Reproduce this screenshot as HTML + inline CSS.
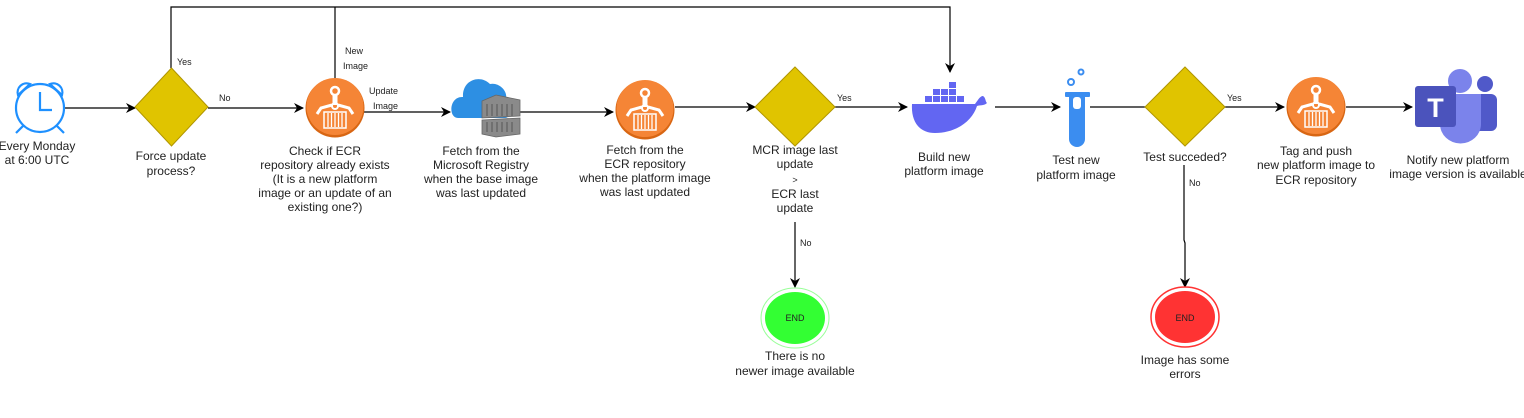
<!DOCTYPE html>
<html><head><meta charset="utf-8"><style>
html,body{margin:0;padding:0;background:#fff;}
svg{display:block;}
text{font-family:"Liberation Sans",sans-serif;fill:#222;}
.l{font-size:12px;text-anchor:middle;}
.s{font-size:9px;}
</style></head><body>
<svg width="1524" height="418" viewBox="0 0 1524 418" xmlns="http://www.w3.org/2000/svg">
<defs>
<marker id="a" markerWidth="10" markerHeight="10" refX="9" refY="5" orient="auto" markerUnits="userSpaceOnUse"><path d="M0,0 L10,5 L0,10 L3,5 Z" fill="#000"/></marker>
<g id="ecr">
<circle cx="0" cy="0" r="29.5" fill="#D86613"/>
<circle cx="0" cy="-1.5" r="28.5" fill="#F58536"/>
<circle cx="0" cy="-17" r="4" fill="none" stroke="#fff" stroke-width="2.5"/>
<rect x="-2.5" y="-13" width="5" height="10" fill="#fff"/>
<circle cx="0" cy="-2" r="3" fill="none" stroke="#fff" stroke-width="2"/>
<path d="M-18,6 L-14,0 L-3,-3 M18,6 L14,0 L3,-3" stroke="#fff" stroke-width="3" fill="none"/>
<rect x="-11" y="4" width="22" height="16" fill="none" stroke="#fff" stroke-width="1.5"/>
<path d="M-7,5v14M-3.5,5v14M0,5v14M3.5,5v14M7,5v14" stroke="#fff" stroke-width="1.3"/>
</g>
</defs>
<g stroke="#000" stroke-width="1.2" fill="none">
<path d="M171,68 V7 H950 V72" marker-end="url(#a)"/>
<path d="M335,78 V7"/>
<path d="M64,108 H135" marker-end="url(#a)"/>
<path d="M208,108 H303" marker-end="url(#a)"/>
<path d="M360,112 H450" marker-end="url(#a)"/>
<path d="M510,112 H613" marker-end="url(#a)"/>
<path d="M675,107 H755" marker-end="url(#a)"/>
<path d="M835,107 H907" marker-end="url(#a)"/>
<path d="M995,107 H1060" marker-end="url(#a)"/>
<path d="M1090,107 H1145"/>
<path d="M1225,107 H1284" marker-end="url(#a)"/>
<path d="M1346,107 H1412" marker-end="url(#a)"/>
<path d="M795,222 V287" marker-end="url(#a)"/>
<path d="M1184,165 V240 L1185,243 V287" marker-end="url(#a)"/>
</g>
<!-- clock -->
<g stroke="#1E90FF" stroke-width="2.2" fill="none">
<circle cx="40" cy="108" r="24"/>
<path d="M40,92 V110 H52"/>
<path d="M18,95 A9,9 0 0 1 30,84 Z M62,95 A9,9 0 0 0 50,84 Z"/>
<path d="M24,125 L16,133 M56,125 L64,133"/>
</g>
<!-- diamonds -->
<g fill="#E0C400" stroke="#B09500" stroke-width="1">
<path d="M171.5,68 L208,107 L171.5,146 L135,107 Z"/>
<path d="M795,67 L835,107 L795,146 L755,107 Z"/>
<path d="M1185,67 L1225,107 L1185,146 L1145,107 Z"/>
</g>
<use href="#ecr" x="335" y="108"/>
<use href="#ecr" x="645" y="110"/>
<use href="#ecr" x="1316" y="107"/>
<!-- azure -->
<path d="M458,118 C448,118 449,96 463,97 C462,80 480,74 490,84 C498,82 508,90 506,99 C514,102 512,118 505,118 Z" fill="#2D8FE3"/>
<g fill="#8a8a8a" stroke="#666" stroke-width="0.8">
<path d="M482,101 L496,95 L520,100 L520,116 L482,118 Z"/>
<path d="M482,120 L520,118 L520,134 L496,137 L482,134 Z"/>
</g>
<g stroke="#555" stroke-width="1"><path d="M487,104v12M492,104v12M497,104v12M502,104v12M507,104v12M512,104v12M487,122v10M492,122v10M497,122v10M502,122v10M507,122v10M512,122v10"/></g>
<!-- docker -->
<g fill="#6266F2">
<path d="M912,104 H975 C978,100 980,96 983,96 C986,98 985,101 987,103 C984,106 979,105 977,106 C972,122 955,133 935,133 C918,133 911,120 912,104 Z"/>
<rect x="925" y="96" width="7" height="6"/><rect x="933" y="96" width="7" height="6"/><rect x="941" y="96" width="7" height="6"/><rect x="949" y="96" width="7" height="6"/><rect x="957" y="96" width="7" height="6"/>
<rect x="933" y="89" width="7" height="6"/><rect x="941" y="89" width="7" height="6"/><rect x="949" y="89" width="7" height="6"/>
<rect x="949" y="82" width="7" height="6"/>
</g>
<!-- test tube -->
<g fill="#3B8DF0">
<rect x="1065" y="92" width="25" height="5" rx="1"/>
<path d="M1069,97 H1085 V139 A8,8 0 0 1 1069,139 Z"/>
</g>
<rect x="1073" y="97" width="8" height="12" rx="3" fill="#fff"/>
<g fill="none" stroke="#3B8DF0" stroke-width="2"><circle cx="1071" cy="82" r="3"/><circle cx="1081" cy="72" r="2.5"/></g>
<!-- teams -->
<circle cx="1460" cy="81" r="12" fill="#7B83EB"/>
<circle cx="1485" cy="84" r="8" fill="#5059C9"/>
<rect x="1474" y="94" width="23" height="37" rx="6" fill="#5059C9"/>
<path d="M1440,94 H1481 V124 A20,19 0 0 1 1440,124 Z" fill="#7B83EB"/>
<rect x="1415" y="86" width="41" height="41" rx="3" fill="#4B53BC"/>
<text x="1435.5" y="117" style="font-size:27px;font-weight:bold;fill:#fff;text-anchor:middle">T</text>
<!-- ends -->
<ellipse cx="795" cy="318" rx="34" ry="30" fill="#fff" stroke="#9f9" stroke-width="1"/>
<ellipse cx="795" cy="318" rx="30" ry="26" fill="#33FF33"/>
<ellipse cx="1185" cy="317" rx="34" ry="30" fill="#fff" stroke="#f33" stroke-width="1.5"/>
<ellipse cx="1185" cy="317" rx="30" ry="26" fill="#FF3333"/>
<text x="795" y="321" style="font-size:9px;text-anchor:middle">END</text>
<text x="1185" y="321" style="font-size:9px;text-anchor:middle">END</text>
<!-- edge labels -->
<text class="s" x="177" y="65">Yes</text>
<text class="s" x="219" y="101">No</text>
<text class="s" x="345" y="54">New</text>
<text class="s" x="343" y="69">Image</text>
<text class="s" x="369" y="94">Update</text>
<text class="s" x="373" y="109">Image</text>
<text class="s" x="837" y="101">Yes</text>
<text class="s" x="1227" y="101">Yes</text>
<text class="s" x="800" y="246">No</text>
<text class="s" x="1189" y="186">No</text>
<!-- labels -->
<text class="l" x="37" y="150">Every Monday</text>
<text class="l" x="37" y="164">at 6:00 UTC</text>
<text class="l" x="171" y="160">Force update</text>
<text class="l" x="171" y="175">process?</text>
<text class="l" x="325" y="155">Check if ECR</text>
<text class="l" x="325" y="169">repository already exists</text>
<text class="l" x="325" y="183">(It is a new platform</text>
<text class="l" x="325" y="197">image or an update of an</text>
<text class="l" x="325" y="211">existing one?)</text>
<text class="l" x="481" y="155">Fetch from the</text>
<text class="l" x="481" y="169">Microsoft Registry</text>
<text class="l" x="481" y="183">when the base image</text>
<text class="l" x="481" y="197">was last updated</text>
<text class="l" x="645" y="154">Fetch from the</text>
<text class="l" x="645" y="168">ECR repository</text>
<text class="l" x="645" y="182">when the platform image</text>
<text class="l" x="645" y="196">was last updated</text>
<text class="l" x="795" y="154">MCR image last</text>
<text class="l" x="795" y="168">update</text>
<text class="l" x="795" y="183" style="font-size:9px">&gt;</text>
<text class="l" x="795" y="198">ECR last</text>
<text class="l" x="795" y="212">update</text>
<text class="l" x="944" y="161">Build new</text>
<text class="l" x="944" y="175">platform image</text>
<text class="l" x="1076" y="164">Test new</text>
<text class="l" x="1076" y="179">platform image</text>
<text class="l" x="1185" y="161">Test succeded?</text>
<text class="l" x="1316" y="155">Tag and push</text>
<text class="l" x="1316" y="169">new platform image to</text>
<text class="l" x="1316" y="184">ECR repository</text>
<text class="l" x="1458" y="164">Notify new platform</text>
<text class="l" x="1458" y="178">image version is available</text>
<text class="l" x="795" y="360">There is no</text>
<text class="l" x="795" y="375">newer image available</text>
<text class="l" x="1185" y="364">Image has some</text>
<text class="l" x="1185" y="378">errors</text>
</svg>
</body></html>
